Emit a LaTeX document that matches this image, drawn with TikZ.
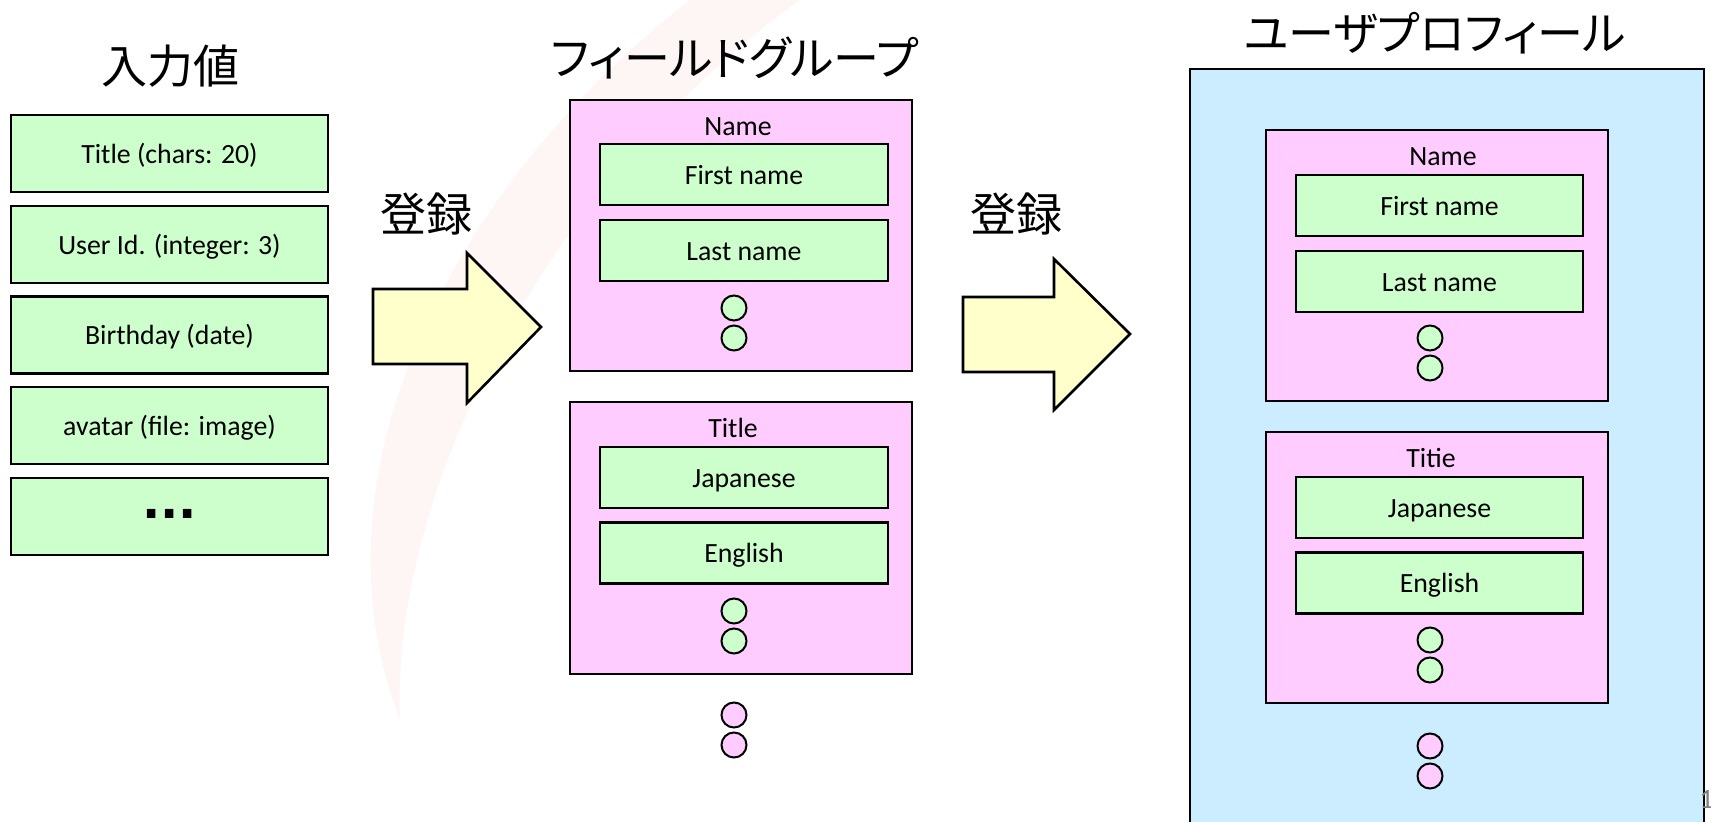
\documentclass[tikz,border=0pt]{standalone}
\usepackage{fontspec}
\setmainfont{Carlito}
\newfontfamily\jp[RawFeature=+palt]{Noto Sans CJK JP}
\newfontfamily\dejavu{DejaVu Sans}
\definecolor{gfill}{RGB}{204,255,204}
\definecolor{pfill}{RGB}{255,204,255}
\definecolor{bfill}{RGB}{204,236,255}
\definecolor{yfill}{RGB}{255,255,204}
\definecolor{wmark}{RGB}{254,245,245}
\tikzset{
  gbox/.style={draw=black, line width=1.3pt, fill=gfill, minimum height=30.5pt, inner sep=0pt,
    font=\fontsize{13.9}{16}\selectfont, text height=0.98em, text depth=0pt},
  inbox/.style={gbox, minimum width=158.5pt, minimum height=38.5pt},
  pbox/.style={draw=black, line width=1.3pt, fill=pfill, minimum width=171pt, inner sep=0pt},
  bbox/.style={draw=black, line width=1.3pt, fill=bfill, inner sep=0pt},
  gdot/.style={circle, draw=black, line width=1pt, fill=gfill, minimum size=12.5pt, inner sep=0pt},
  pdot/.style={circle, draw=black, line width=1pt, fill=pfill, minimum size=12.5pt, inner sep=0pt},
  cjktitle/.style={font=\jp\fontsize{23}{27}\selectfont, inner sep=0pt},
  lbl/.style={font=\fontsize{13.9}{16}\selectfont, inner sep=0pt, text height=0.9em, text depth=0pt},
  blockarrow/.style={draw=black, line width=1.3pt, fill=yfill, line join=miter}
}
\begin{document}
\begin{tikzpicture}[x=0.5pt, y=-0.5pt]
\useasboundingbox (0,0) rectangle (1711,822);
% faint background watermark
\fill[wmark] (690,0) .. controls (470,170) and (300,460) .. (400,720)
   .. controls (390,480) and (560,170) .. (800,0) -- cycle;

% ---- left column
\node[cjktitle] (tin) at (170,66) {入力値};
\node[inbox] (in1) at (169.5,153.5) {Title (chars: 20)};
\node[inbox] (in2) at (169.5,244.5) {User Id. (integer: 3)};
\node[inbox] (in3) at (169.5,335) {Birthday (date)};
\node[inbox] (in4) at (169.5,425.5) {avatar (file: image)};
\node[inbox, font=\dejavu\bfseries\fontsize{24}{28}\selectfont, text height=0.24em] (in5) at (169.5,516.5) {...};

% ---- arrow 1
\node[cjktitle] (reg1) at (426,214) {登録};
\draw[blockarrow] (373,289) -- (467,289) -- (467,253) -- (541,327) -- (467,403) -- (467,364) -- (373,364) -- cycle;

% ---- middle column
\node[cjktitle] (tfg) at (735,58) {フィールドグループ};
\node[pbox, minimum height=135.5pt] (gname) at (741,235.5) {};
\node[lbl] (lname) at (738,127) {Name};
\node[gbox, minimum width=144pt] (first) at (744,174.5) {First name};
\node[gbox, minimum width=144pt] (last) at (744,250.5) {Last name};
\node[gdot] (gd1) at (734,308) {};
\node[gdot] (gd2) at (734,338) {};

\node[pbox, minimum height=136pt] (gtitle) at (741,538) {};
\node[lbl] (ltitle) at (733,429) {Title};
\node[gbox, minimum width=144pt] (jap) at (744,477.5) {Japanese};
\node[gbox, minimum width=144pt] (eng) at (744,553) {English};
\node[gdot] (gd3) at (734,611) {};
\node[gdot] (gd4) at (734,641) {};
\node[pdot] (pd1) at (734,715) {};
\node[pdot] (pd2) at (734,745) {};

% ---- arrow 2
\node[cjktitle] (reg2) at (1016,214) {登録};
\draw[blockarrow] (963,297) -- (1054,297) -- (1054,259) -- (1130,334) -- (1054,410) -- (1054,372) -- (963,372) -- cycle;

% ---- right column
\node[cjktitle] (tup) at (1435,33) {ユーザプロフィール};
\node[bbox, minimum width=257pt, minimum height=385.5pt] (prof) at (1447,454.5) {};
\node[pbox, minimum height=135.5pt] (rname) at (1437,265.5) {};
\node[lbl] (rlname) at (1443,157) {Name};
\node[gbox, minimum width=143.5pt] (rfirst) at (1439.5,205.5) {First name};
\node[gbox, minimum width=143.5pt] (rlast) at (1439.5,281.5) {Last name};
\node[gdot] (rgd1) at (1430,338) {};
\node[gdot] (rgd2) at (1430,368) {};

\node[pbox, minimum height=135.5pt] (rtitle) at (1437,567.5) {};
\node[lbl] (rltitle) at (1431,459) {Titie};
\node[gbox, minimum width=143.5pt] (rjap) at (1439.5,507.5) {Japanese};
\node[gbox, minimum width=143.5pt] (reng) at (1439.5,583) {English};
\node[gdot] (rgd3) at (1430,640) {};
\node[gdot] (rgd4) at (1430,670) {};
\node[pdot] (rpd1) at (1430,746) {};
\node[pdot] (rpd2) at (1430,776) {};

% page number (cut at the edge)
\node[anchor=west, inner sep=0pt, text=gray, font=\fontsize{14}{16}\selectfont] (pgno) at (1699,799) {1};
\end{tikzpicture}
\end{document}
